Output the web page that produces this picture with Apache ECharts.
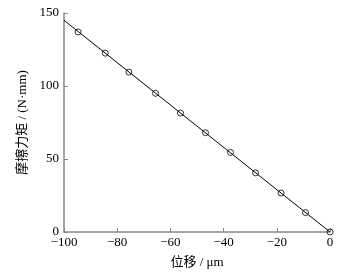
<!DOCTYPE html>
<html><head><meta charset="utf-8">
<script src="https://cdn.jsdelivr.net/npm/echarts@6/dist/echarts.min.js"></script>
<style>html,body{margin:0;padding:0;background:#fff}#c{width:363px;height:274px}</style>
</head><body><div id="c"></div>
<script>
var lineX = [-100, 0];
var lineY = [145, 0];
var markX = [-94.7, -84.5, -75.6, -65.6, -56.2, -46.8, -37.4, -28, -18.4, -9.2, 0];
var markY = [137, 122.5, 109.5, 95, 81.5, 68, 54.5, 40.5, 26.7, 13.3, 0];
var xTicks = [-100, -80, -60, -40, -20, 0];
var yTicks = [0, 50, 100, 150];

var chart = echarts.init(document.getElementById('c'));
var fnt = '"Liberation Serif", "Noto Sans CJK SC", serif';
chart.setOption({
  animation: false,
  grid: {left: 64, right: 33, top: 13, bottom: 42},
  xAxis: {
    type: 'value', min: -100, max: 0, interval: 20,
    name: '位移 / μm', nameLocation: 'middle', nameGap: 24,
    nameTextStyle: {color: '#000', fontSize: 13, fontFamily: fnt},
    axisLine: {onZero: false, lineStyle: {color: '#888', width: 1.5}},
    axisTick: {inside: true, length: 4, lineStyle: {color: '#888'}},
    axisLabel: {color: '#000', fontSize: 13, fontFamily: fnt, margin: 4,
      formatter: function(v){ return String(v).replace('-', '−'); }},
    splitLine: {show: false}
  },
  yAxis: {
    type: 'value', min: 0, max: 150, interval: 50, position: 'left',
    name: '摩擦力矩 / (N·mm)', nameLocation: 'middle', nameGap: 29,
    nameTextStyle: {color: '#000', fontSize: 13, fontFamily: fnt},
    axisLine: {show: true, onZero: false, lineStyle: {color: '#888', width: 1.5}},
    axisTick: {show: true, inside: true, length: 4, lineStyle: {color: '#888'}},
    axisLabel: {color: '#000', fontSize: 13, fontFamily: fnt, margin: 5},
    splitLine: {show: false}
  },
  series: [
    {type: 'line', data: lineX.map(function(x,i){return [x, lineY[i]];}),
     showSymbol: false, lineStyle: {color: '#000', width: 1}, z: 2},
    {type: 'scatter', data: markX.map(function(x,i){return [x, markY[i]];}),
     symbol: 'circle', symbolSize: 6,
     itemStyle: {color: 'rgba(255,255,255,0)', borderColor: '#000', borderWidth: 1}, z: 3}
  ]
});
</script></body></html>
